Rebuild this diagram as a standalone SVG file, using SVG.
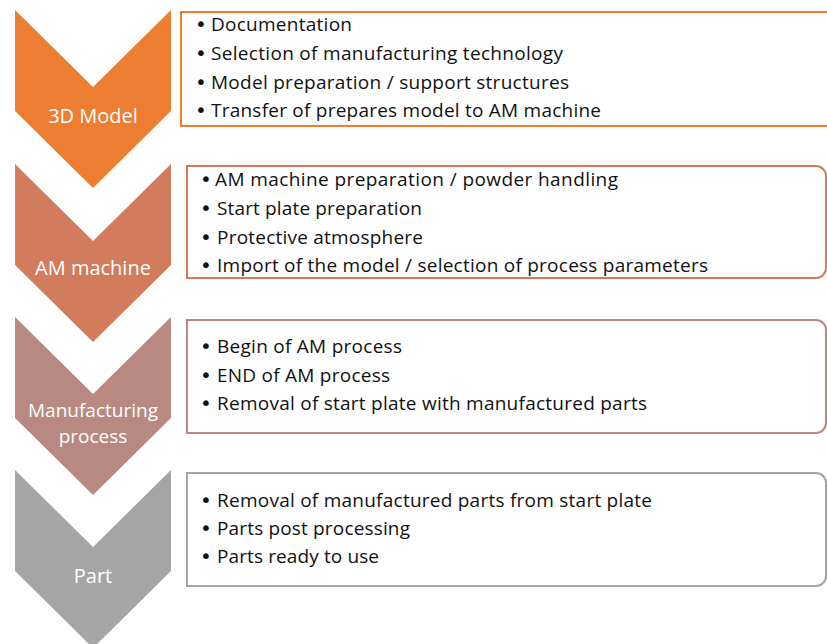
<svg xmlns="http://www.w3.org/2000/svg" width="827" height="644" viewBox="0 0 827 644">
  <style>
    .lbl { font-family: "Open Sans", "Noto Sans", sans-serif; font-size: 20px; fill: #ffffff; text-anchor: middle; }
    .lbl.two { font-size: 19px; }
    .item { font-family: "Open Sans", "Noto Sans", sans-serif; font-size: 19px; fill: #111111; }
    .item .b { font-family: "DejaVu Sans", sans-serif; font-size: 20px; }
    .box { fill: #ffffff; stroke-width: 2; }
  </style>
  <defs>
    <!-- chevron: top edge, notch, side, tip -->
    <path id="chev" d="M15,0 L93,77 L171,0 L171,101 L93,178 L15,101 Z"/>
  </defs>

  <!-- stage 1 -->
  <g id="stage-3d-model">
    <use href="#chev" transform="translate(0,10)" fill="#ED7D31"/>
    <text class="lbl" x="93" y="123">3D Model</text>
    <rect class="box" x="181" y="12" width="660" height="114" stroke="#ED7D31"/>
    <g class="item">
      <text class="b" x="195" y="31">•</text><text x="211" y="31" textLength="141">Documentation</text>
      <text class="b" x="195" y="60">•</text><text x="211" y="60" textLength="352">Selection of manufacturing technology</text>
      <text class="b" x="195" y="89">•</text><text x="211" y="89" textLength="358">Model preparation / support structures</text>
      <text class="b" x="195" y="117">•</text><text x="211" y="117" textLength="390">Transfer of prepares model to AM machine</text>
    </g>
  </g>

  <!-- stage 2 -->
  <g id="stage-am-machine">
    <use href="#chev" transform="translate(0,164)" fill="#D27B5D"/>
    <text class="lbl" x="93" y="275">AM machine</text>
    <path class="box" d="M187,166 H816 A10,10 0 0 1 826,176 V268 A10,10 0 0 1 816,278 H187 Z" stroke="#D27B5D"/>
    <g class="item">
      <text class="b" x="200" y="186">•</text><text x="215" y="186" textLength="403">AM machine preparation / powder handling</text>
      <text class="b" x="200" y="215">•</text><text x="217" y="215" textLength="205">Start plate preparation</text>
      <text class="b" x="200" y="244">•</text><text x="217" y="244" textLength="206">Protective atmosphere</text>
      <text class="b" x="200" y="272">•</text><text x="217" y="272" textLength="491">Import of the model / selection of process parameters</text>
    </g>
  </g>

  <!-- stage 3 -->
  <g id="stage-manufacturing">
    <use href="#chev" transform="translate(0,317)" fill="#B98981"/>
    <text class="lbl two" x="93" y="417">Manufacturing</text>
    <text class="lbl two" x="93" y="443">process</text>
    <path class="box" d="M187,320 H816 A10,10 0 0 1 826,330 V423 A10,10 0 0 1 816,433 H187 Z" stroke="#B98981"/>
    <g class="item">
      <text class="b" x="200" y="353">•</text><text x="217" y="353" textLength="185">Begin of AM process</text>
      <text class="b" x="200" y="382">•</text><text x="217" y="382" textLength="173">END of AM process</text>
      <text class="b" x="200" y="410">•</text><text x="217" y="410" textLength="430">Removal of start plate with manufactured parts</text>
    </g>
  </g>

  <!-- stage 4 -->
  <g id="stage-part">
    <use href="#chev" transform="translate(0,470)" fill="#A5A5A5"/>
    <text class="lbl" x="93" y="583">Part</text>
    <path class="box" d="M187,473 H816 A10,10 0 0 1 826,483 V576 A10,10 0 0 1 816,586 H187 Z" stroke="#A5A5A5"/>
    <g class="item">
      <text class="b" x="200" y="507">•</text><text x="217" y="507" textLength="435">Removal of manufactured parts from start plate</text>
      <text class="b" x="200" y="535">•</text><text x="217" y="535" textLength="193">Parts post processing</text>
      <text class="b" x="200" y="563">•</text><text x="217" y="563" textLength="162">Parts ready to use</text>
    </g>
  </g>

  <g id="connectors"/>
</svg>
